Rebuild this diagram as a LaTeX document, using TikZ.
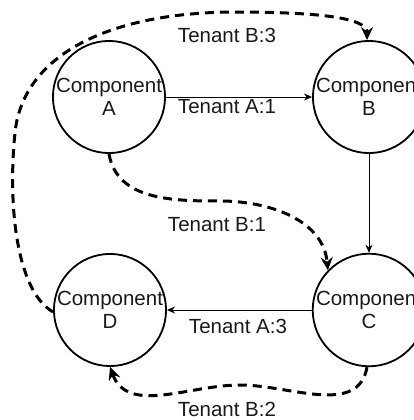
\documentclass[tikz,border=0pt]{standalone}
\usepackage{fontspec}
\setmainfont{Liberation Sans}
\usetikzlibrary{arrows.meta}
\begin{document}
\begin{tikzpicture}[x=1pt,y=-1pt,
  comp/.style={circle,draw=black,line width=1.8pt,minimum size=108pt,inner sep=0pt,
    align=center,font=\fontsize{20.5}{23.5}\selectfont,text=black!90},
  flow/.style={line width=1pt,-{Stealth[length=8pt,width=7pt,inset=2.5pt]}},
  tenantb/.style={line width=3pt,dash pattern=on 9pt off 6pt,
    -{Stealth[length=13pt,width=12pt,inset=4.5pt]}},
  lbl/.style={font=\fontsize{20.5}{24}\selectfont,text=black!90,inner sep=0pt}]
\useasboundingbox (0,0) rectangle (414,420);
\clip (0,0) rectangle (414,420);

% components
\node[comp] (A) at (109,97) {Component\\A};
\node[comp] (B) at (369,97) {Component\\B};
\node[comp] (C) at (369,310) {Component\\C};
\node[comp] (D) at (110,310) {Component\\D};

% tenant A route
\draw[flow] (A.east) -- (B.west);
\draw[flow] (B.south) -- (C.north);
\draw[flow] (C.west) -- (D.east);

% tenant B route
\draw[tenantb] (A.south) to[out=-80,in=180] (220,201) to[out=0,in=95] (C.136);
\draw[tenantb] (C.-92) to[out=-100,in=0] (240,385) to[out=180,in=-70] (D.south);
\draw[tenantb] (D.182) .. controls (15,290) and (8,200) .. (15,133)
  .. controls (22,60) and (100,13) .. (233,12)
  .. controls (320,12) and (367,18) .. (B.92);

% labels
\node[lbl] (l1) at (227,35) {Tenant B:3};
\node[lbl] (l2) at (227,107) {Tenant A:1};
\node[lbl] (l3) at (217,225) {Tenant B:1};
\node[lbl] (l4) at (238,326) {Tenant A:3};
\node[lbl] (l5) at (227,409) {Tenant B:2};
\end{tikzpicture}
\end{document}
